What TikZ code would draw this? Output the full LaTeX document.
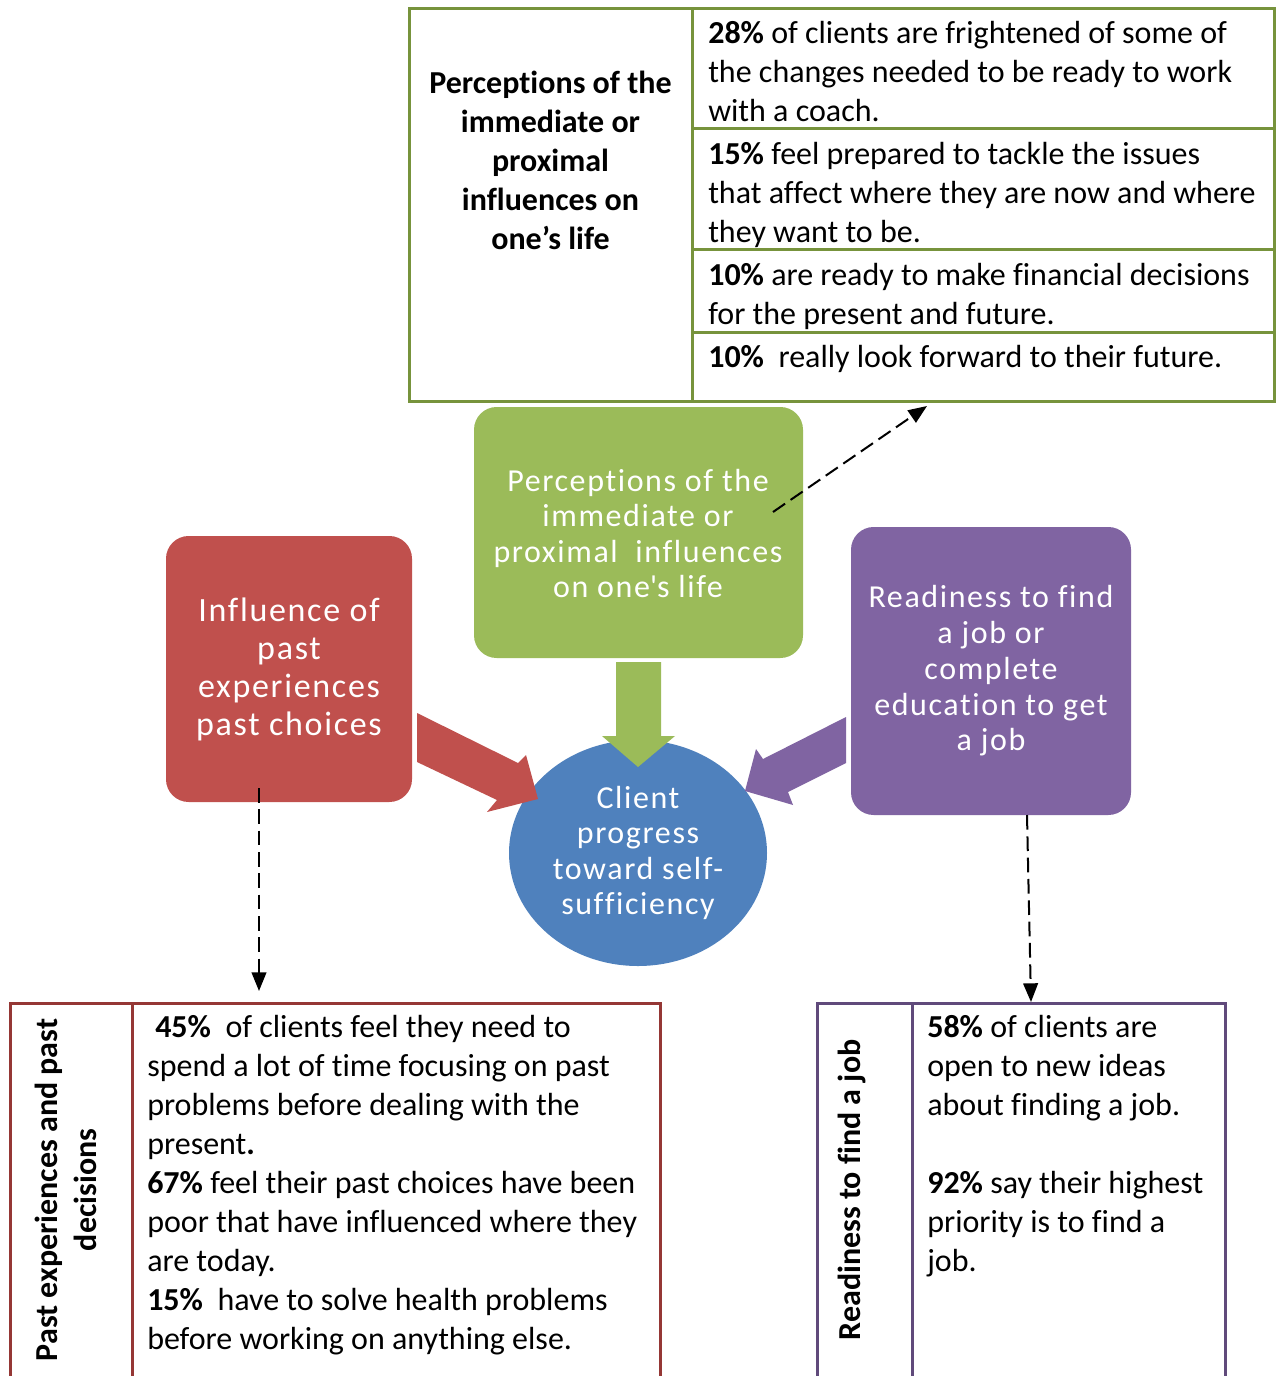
\documentclass[tikz,border=0pt]{standalone}
\usepackage{fontspec}
\setmainfont{Carlito}[Ligatures={NoCommon}]
\newfontfamily\boxfont{Carlito}[LetterSpace=5,Ligatures={NoCommon}]
\usetikzlibrary{arrows.meta}
\definecolor{tgreen}{HTML}{77933C}
\definecolor{bgreen}{HTML}{9BBB59}
\definecolor{bred}{HTML}{C0504D}
\definecolor{tred}{HTML}{953735}
\definecolor{bpurple}{HTML}{8064A2}
\definecolor{tpurple}{HTML}{604A7B}
\definecolor{bblue}{HTML}{4F81BD}
\newcommand{\tstrut}{\rule{0pt}{0.85em}}
\begin{document}
\begin{tikzpicture}[x=0.75pt,y=-0.75pt,
  tline/.style={line width=2.25pt},
  body/.style={anchor=north west,inner sep=0pt,align=left,font=\fontsize{24}{29.25}\selectfont},
  bodyc/.style={anchor=north,inner sep=0pt,align=center,font=\fontsize{24}{29.25}\selectfont\bfseries},
  rotlab/.style={inner sep=0pt,align=center,rotate=90,font=\fontsize{24}{29.25}\selectfont\bfseries},
  boxtxt/.style={anchor=north,inner sep=0pt,align=center,text=white},
  blockbox/.style={rounded corners=17pt},
  dasharrow/.style={line width=1.5pt,dash pattern=on 11pt off 5pt,-{Triangle[length=14pt,width=11pt]}}]
\clip (0,0) rectangle (1276,1376);
\fill[white] (0,0) rectangle (1276,1376);

% ---------- top table ----------
\draw[tgreen,tline] (409,9) rectangle (1274.5,401.5);
\draw[tgreen,tline] (692,9) -- (692,401.5);
\draw[tgreen,tline] (692,129) -- (1274.5,129);
\draw[tgreen,tline] (692,250) -- (1274.5,250);
\draw[tgreen,tline] (692,332.5) -- (1274.5,332.5);
\node[bodyc] (tleft) at (550.5,66.5) {\tstrut Perceptions of the\\immediate or\\proximal\\influences on\\one’s life};
\node[body] (tr1) at (708,16) {\tstrut\textbf{28\%} of clients are frightened of some of\\the changes needed to be ready to work\\with a coach.};
\node[body] (tr2) at (708,137) {\tstrut\textbf{15\%} feel prepared to tackle the issues\\that affect where they are now and where\\they want to be.};
\node[body] (tr3) at (708,258) {\tstrut\textbf{10\%} are ready to make financial decisions\\for the present and future.};
\node[body] (tr4) at (708,340.5) {\tstrut\textbf{10\%}\ \ really look forward to their future.};

% ---------- bottom left table ----------
\draw[tred,tline] (10,1400) -- (10,1003.5) -- (660,1003.5) -- (660,1400);
\draw[tred,tline] (132,1003.5) -- (132,1400);
\node[rotlab] (blab) at (66,1190) {Past experiences and past\\decisions};
\node[body] (btxt) at (147,1010) {\tstrut\hspace*{6pt}\textbf{45\%}\ \ of clients feel they need to\\spend a lot of time focusing on past\\problems before dealing with the\\present\textbf{.}\\\textbf{67\%} feel their past choices have been\\poor that have influenced where they\\are today.\\\textbf{15\%}\ \ have to solve health problems\\before working on anything else.};

% ---------- bottom right table ----------
\draw[tpurple,tline] (817,1400) -- (817,1003.5) -- (1225,1003.5) -- (1225,1400);
\draw[tpurple,tline] (912,1003.5) -- (912,1400);
\node[rotlab] (rlab) at (851.5,1190) {Readiness to find a job};
\node[body] (rtxt) at (927,1010.5) {\tstrut\textbf{58\%} of clients are\\open to new ideas\\about finding a job.\\\mbox{}\\\textbf{92\%} say their highest\\priority is to find a\\job.};

% ---------- centre ellipse ----------
\fill[bblue] (638,853) ellipse [x radius=129, y radius=113];
\node[boxtxt,font=\boxfont\fontsize{24}{26.5}\selectfont] (ctxt) at (638,781) {\tstrut Client\\progress\\toward self-\\sufficiency};

% ---------- block arrows ----------
\fill[bgreen] (616,662) -- (661,662) -- (661,736) -- (675,736) -- (638,767) -- (602,736) -- (616,736) -- cycle;
\fill[bred] (417,713) -- (518,763) -- (526,755) -- (538,799) -- (487,812) -- (497,800) -- (417,762) -- cycle;
\fill[bpurple] (846,717) -- (763,759) -- (756,749) -- (745,791) -- (793,805) -- (788,792) -- (846,763) -- cycle;

% ---------- coloured boxes ----------
\fill[bgreen,blockbox] (474,407) rectangle (803,658);
\node[boxtxt,font=\boxfont\fontsize{24}{26.6}\selectfont] (gtxt) at (638,464) {\tstrut Perceptions of the\\immediate or\\proximal\ \ influences\\on one\textquotesingle s life};
\fill[bred,blockbox] (166,536) rectangle (412,802);
\node[boxtxt,font=\boxfont\fontsize{25.5}{28.5}\selectfont] (rtxt2) at (289,592) {\tstrut Influence of\\past\\experiences\\past choices};
\fill[bpurple,blockbox] (851,527) rectangle (1131,815);
\node[boxtxt,font=\boxfont\fontsize{24}{26.8}\selectfont] (ptxt) at (991,580.5) {\tstrut Readiness to find\\a job or\\complete\\education to get\\a job};

% ---------- dashed connectors ----------
\coordinate (gs) at (773,512);
\coordinate (ge) at (927,406);
\coordinate (rs) at (259,788);
\coordinate (re) at (259,991);
\coordinate (ps) at (1027,815);
\coordinate (pe) at (1031,1002);
\draw[dasharrow] (gs) -- (ge);
\draw[dasharrow] (rs) -- (re);
\draw[dasharrow] (ps) -- (pe);
\end{tikzpicture}
\end{document}
